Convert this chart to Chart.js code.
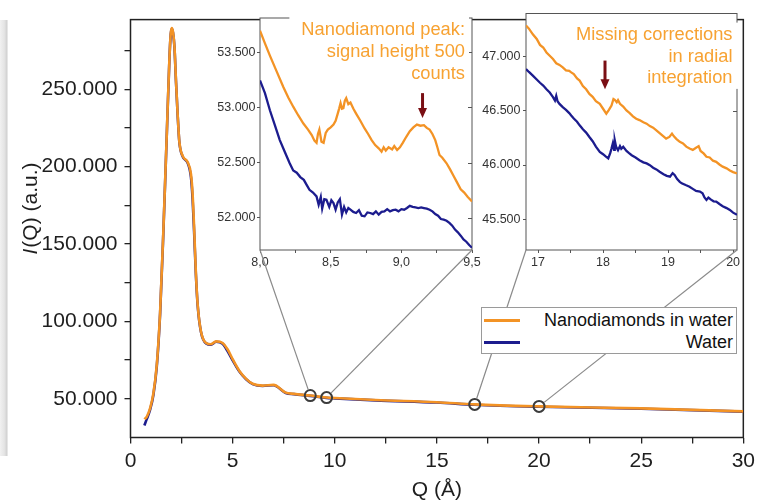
<!DOCTYPE html>
<html><head><meta charset="utf-8">
<script src="https://cdn.jsdelivr.net/npm/chart.js@4.4.1/dist/chart.umd.min.js"></script>
<style>
html,body{margin:0;padding:0;background:#fff;overflow:hidden;}
#wrap{position:relative;width:760px;height:502px;overflow:hidden;}
#wrap canvas{position:absolute;top:0;}
#band{position:absolute;left:0;top:20px;width:8px;height:436px;background:linear-gradient(to right,#f1f1f1,#e4e4e4 55%,#d2d2d2 85%,#f4f4f4);}
#legend{position:absolute;left:481px;top:307px;width:254px;height:45px;border:1px solid #9a9a9a;background:#fff;z-index:10;font-family:"Liberation Sans",Arial,sans-serif;font-size:18px;color:#111;}
.row{position:absolute;left:0;right:0;height:22px;}
.sw{position:absolute;left:2px;top:10px;width:36px;height:3px;}
.lbl{position:absolute;right:3px;top:0;line-height:22px;white-space:nowrap;}
</style></head><body>
<div id="wrap">
<div id="band"></div>
<canvas id="main" width="760" height="502" style="left:0;z-index:1"></canvas>
<canvas id="in1" width="290" height="275" style="left:200px;z-index:2"></canvas>
<canvas id="in2" width="290" height="275" style="left:470px;z-index:3"></canvas>
<canvas id="links" width="760" height="502" style="left:0;z-index:4;pointer-events:none"></canvas>
<div id="legend"></div>
</div>
<script>
// ---------- DATA ----------
const seriesNames = ['Nanodiamonds in water', 'Water'];
const xTitle = 'Q (Å)';
const yTitleItalic = 'I';
const yTitleRest = '(Q) (a.u.)';

// tick values (labels shown where the format functions below return text)
const mainXTicks = [0,2.5,5,7.5,10,12.5,15,17.5,20,22.5,25,27.5,30];
const mainYTicks = [50000,75000,100000,125000,150000,175000,200000,225000,250000,275000];
const in1XTicks = [8.0,8.25,8.5,8.75,9.0,9.25,9.5];
const in1YTicks = [52000,52500,53000,53500];
const in2XTicks = [17,17.5,18,18.5,19,19.5,20];
const in2YTicks = [45500,46000,46500,47000];

// main curve
const mainQ = [0.68,0.8,0.96,1.12,1.29,1.45,1.61,1.78,1.91,1.97,2.02,2.08,2.15,2.23,2.31,2.39,2.56,2.8,2.96,3.04,3.12,3.2,3.29,3.45,3.7,3.94,4.19,4.51,4.75,5.0,5.33,5.66,5.98,6.47,7.0,7.6,8.0,8.8,9.6,10,12,15,16.85,20,25,30];
const mainNano = [36800,38500,44000,53400,72400,106000,159000,222600,271500,286000,289500,287000,278000,254500,233400,216400,206800,202800,195200,182500,159000,131600,110600,93500,86000,85200,87100,86000,82000,75600,68000,62900,59700,58500,59000,54000,53200,52100,50800,50500,49200,47800,46400,45100,43800,41900];
const mainWater = [32800,37000,43000,52500,71500,105000,158000,222000,271000,285500,289000,286500,277500,254000,233000,216000,206300,202300,193000,179000,156000,130500,110000,93200,85800,85000,86900,85600,80800,74800,67600,62600,59500,58300,58800,53800,53000,51900,50600,50300,49000,47600,46200,44900,43600,41700];

// zoom marks on the main curve, and which inset corner each one links to
const markQ = [8.8, 9.6, 16.85, 20.0];
const markI = [52100, 50800, 46400, 45100];
const markInset = [0, 0, 1, 1];
const markSide = ['left', 'right', 'left', 'right'];

// inset 1 (Q 8.0 - 9.5)
const in1Q_nano = [8.00,8.035,8.07,8.12,8.165,8.20,8.236,8.27,8.307,8.34,8.366,8.385,8.40,8.41,8.42,8.435,8.45,8.465,8.48,8.50,8.52,8.535,8.55,8.56,8.57,8.58,8.59,8.60,8.61,8.625,8.64,8.66,8.68,8.71,8.74,8.765,8.79,8.815,8.84,8.86,8.875,8.89,8.91,8.935,8.95,8.97,8.99,9.01,9.035,9.06,9.085,9.11,9.135,9.16,9.18,9.20,9.22,9.24,9.255,9.27,9.29,9.32,9.345,9.37,9.395,9.42,9.445,9.47,9.50];
const in1I_nano = [53695,53580,53470,53320,53185,53090,53005,52930,52855,52800,52750,52700,52680,52760,52800,52690,52680,52770,52800,52820,52845,52880,52945,52990,53040,52990,52995,53060,53085,53030,53045,52990,52945,52880,52810,52760,52705,52660,52630,52600,52640,52610,52640,52620,52650,52615,52640,52680,52735,52785,52820,52845,52835,52840,52815,52800,52760,52705,52640,52570,52545,52495,52440,52380,52320,52260,52230,52190,52150];
const in1Q_water = [8.00,8.035,8.07,8.105,8.14,8.175,8.21,8.235,8.26,8.285,8.31,8.33,8.35,8.375,8.40,8.415,8.43,8.44,8.455,8.47,8.49,8.505,8.52,8.535,8.55,8.565,8.58,8.595,8.61,8.625,8.64,8.66,8.68,8.70,8.72,8.74,8.76,8.78,8.80,8.82,8.84,8.86,8.88,8.90,8.92,8.94,8.96,8.98,9.00,9.02,9.04,9.06,9.08,9.10,9.12,9.14,9.16,9.18,9.20,9.22,9.24,9.26,9.28,9.30,9.32,9.34,9.36,9.38,9.40,9.42,9.44,9.46,9.48,9.50];
const in1I_water = [53245,53130,52975,52840,52705,52600,52495,52430,52410,52370,52345,52300,52255,52230,52195,52120,52190,52085,52170,52165,52100,52160,52135,52075,52140,52170,52030,52100,52050,52090,52075,52055,52045,52070,52020,52015,52050,52045,52035,52060,52030,52055,52060,52080,52060,52070,52075,52060,52080,52075,52090,52110,52100,52095,52090,52095,52090,52085,52075,52060,52035,52020,51990,51985,51975,51955,51930,51895,51870,51840,51805,51785,51755,51730];

// inset 2 (Q 16.8 - 20.06)
const in2Q_nano = [16.815,16.86,16.92,16.98,17.03,17.08,17.13,17.18,17.23,17.28,17.33,17.38,17.43,17.48,17.51,17.55,17.60,17.64,17.69,17.74,17.79,17.84,17.89,17.95,18.00,18.05,18.09,18.13,18.16,18.18,18.21,18.23,18.26,18.31,18.36,18.41,18.46,18.51,18.56,18.62,18.67,18.72,18.77,18.82,18.87,18.92,18.97,19.02,19.06,19.09,19.13,19.18,19.23,19.28,19.33,19.38,19.43,19.47,19.50,19.55,19.59,19.64,19.69,19.74,19.79,19.84,19.90,19.95,20.00,20.06];
const in2I_nano = [47290,47260,47208,47165,47110,47086,47040,47010,46979,46940,46925,46902,46875,46870,46856,46840,46800,46780,46730,46700,46657,46630,46590,46565,46520,46474,46510,46550,46610,46602,46580,46600,46565,46540,46504,46480,46450,46428,46415,46395,46382,46360,46345,46321,46295,46270,46244,46260,46290,46265,46240,46214,46200,46170,46152,46140,46160,46175,46130,46105,46076,46070,46040,46030,46005,45985,45969,45950,45935,45923];
const in2Q_water = [16.815,16.86,16.92,16.98,17.03,17.08,17.13,17.18,17.23,17.26,17.28,17.30,17.33,17.38,17.43,17.48,17.51,17.55,17.60,17.64,17.69,17.74,17.79,17.84,17.89,17.95,18.00,18.04,18.08,18.11,18.13,18.15,18.17,18.18,18.20,18.23,18.26,18.28,18.31,18.36,18.40,18.44,18.50,18.56,18.62,18.67,18.72,18.77,18.82,18.87,18.93,18.98,19.03,19.07,19.10,19.14,19.18,19.21,19.27,19.33,19.38,19.43,19.49,19.53,19.56,19.59,19.62,19.66,19.70,19.74,19.79,19.84,19.90,19.95,20.00,20.06];
const in2I_water = [46887,46860,46826,46790,46760,46734,46700,46670,46627,46596,46640,46590,46565,46535,46510,46480,46458,46430,46400,46367,46330,46300,46259,46220,46170,46122,46100,46080,46061,46110,46152,46200,46140,46229,46170,46137,46175,46150,46168,46130,46110,46091,46070,46045,46025,46015,45999,45975,45960,45938,45915,45900,45892,45925,45908,45870,45845,45831,45815,45800,45780,45760,45755,45740,45700,45678,45700,45680,45665,45663,45640,45620,45602,45585,45560,45541];

// annotations
const note1Lines = ['Nanodiamond peak:', 'signal height 500', 'counts'];
const note1Arrow = {x: 9.15, top: 53130, tip: 52905};
const note2Lines = ['Missing corrections', 'in radial', 'integration'];
const note2Arrow = {x: 18.03, top: 46965, tip: 46700};

// ---------- STYLE ----------
const ORANGE = '#F39325', BLUE = '#1C1C8E', NOTE = '#F7A232', ARROW = '#7A0F14';
const FONT = '"Liberation Sans", Arial, Helvetica, sans-serif';
Chart.defaults.font.family = FONT;
Chart.defaults.animation = false;

const pts = (xs, ys) => xs.map((x, i) => ({x, y: ys[i]}));
const dotFmt = v => Math.round(v).toString().replace(/\B(?=(\d{3})+(?!\d))/g, '.');
const useTicks = vals => (s => { s.ticks = vals.map(v => ({value: v})); });

const framePlugin = {
  id: 'frame',
  beforeDraw(chart, args, o) {
    if (!o.fill) return;
    const a = chart.chartArea, ctx = chart.ctx;
    ctx.save(); ctx.fillStyle = o.fill;
    ctx.fillRect(a.left, a.top, a.right - a.left, a.bottom - a.top);
    ctx.restore();
  },
  beforeDatasetsDraw(chart, args, o) {
    const a = chart.chartArea, ctx = chart.ctx;
    ctx.save();
    ctx.strokeStyle = o.color; ctx.lineWidth = o.width;
    ctx.strokeRect(a.left, a.top, a.right - a.left, a.bottom - a.top);
    if (o.innerRight) {
      const ys = chart.scales.y;
      ctx.lineWidth = 1;
      ys.ticks.forEach(t => {
        const p = Math.round(ys.getPixelForValue(t.value)) + 0.5;
        ctx.beginPath(); ctx.moveTo(a.right, p); ctx.lineTo(a.right - o.innerRight, p); ctx.stroke();
      });
    }
    ctx.restore();
  }
};

const notePlugin = {
  id: 'note',
  afterDraw(chart, args, o) {
    if (!o.lines) return;
    const ctx = chart.ctx, a = chart.chartArea;
    ctx.save();
    ctx.font = o.size + 'px ' + FONT;
    ctx.fillStyle = '#fff';
    const xr = a.right - o.right;
    o.lines.forEach((t, i) => {
      const w = ctx.measureText(t).width;
      const base = a.top + o.dy + i * o.lh;
      let y1 = base - o.size * 0.95;
      if (i === 0 && o.coverTop) y1 = a.top - 3;
      const y2 = base + o.size * 0.3;
      ctx.fillRect(xr - w - o.padL, y1, w + o.padL + o.padR, y2 - y1);
    });
    ctx.fillStyle = o.color; ctx.textAlign = 'right'; ctx.textBaseline = 'alphabetic';
    o.lines.forEach((t, i) => ctx.fillText(t, xr, a.top + o.dy + i * o.lh));
    // arrow
    const xs = chart.scales.x, ys = chart.scales.y;
    const ax = xs.getPixelForValue(o.arrow.x);
    const yt = ys.getPixelForValue(o.arrow.top), yp = ys.getPixelForValue(o.arrow.tip);
    ctx.strokeStyle = o.arrowColor; ctx.fillStyle = o.arrowColor; ctx.lineWidth = 3;
    ctx.beginPath(); ctx.moveTo(ax, yt); ctx.lineTo(ax, yp - 8); ctx.stroke();
    ctx.beginPath(); ctx.moveTo(ax - 4.5, yp - 10); ctx.lineTo(ax + 4.5, yp - 10); ctx.lineTo(ax, yp); ctx.closePath(); ctx.fill();
    ctx.restore();
  }
};

const titlePlugin = {
  id: 'axisTitles',
  afterDraw(chart) {
    const ctx = chart.ctx, a = chart.chartArea;
    ctx.save();
    ctx.fillStyle = '#1e1e1e';
    ctx.font = '21px ' + FONT;
    ctx.textAlign = 'center'; ctx.textBaseline = 'alphabetic';
    ctx.fillText(xTitle, (a.left + a.right) / 2, a.bottom + 58.5);
    // y title, rotated, with italic I
    ctx.translate(31, 209);
    ctx.rotate(-Math.PI / 2);
    ctx.textBaseline = 'middle'; ctx.textAlign = 'left';
    ctx.font = 'italic 21px ' + FONT;
    const w1 = ctx.measureText(yTitleItalic).width;
    ctx.font = '21px ' + FONT;
    const w2 = ctx.measureText(yTitleRest).width;
    const x0 = -(w1 + w2) / 2;
    ctx.font = 'italic 21px ' + FONT;
    ctx.fillText(yTitleItalic, x0, 0);
    ctx.font = '21px ' + FONT;
    ctx.fillText(yTitleRest, x0 + w1 + 1, 0);
    ctx.restore();
  }
};

// ---------- MAIN CHART ----------
const mainChart = new Chart(document.getElementById('main'), {
  type: 'line',
  data: {
    datasets: [
      {label: seriesNames[0], data: pts(mainQ, mainNano), borderColor: ORANGE, borderWidth: 2.6, pointRadius: 0, cubicInterpolationMode: 'monotone', order: 0},
      {label: seriesNames[1], data: pts(mainQ, mainWater), borderColor: BLUE, borderWidth: 2.6, pointRadius: 0, cubicInterpolationMode: 'monotone', order: 1},
      {label: 'marks', data: pts(markQ, markI), showLine: false, pointRadius: 5.5, pointBorderWidth: 2, pointBorderColor: '#3c3c3c', pointBackgroundColor: 'rgba(0,0,0,0)', order: -1}
    ]
  },
  options: {
    responsive: false, devicePixelRatio: 1, animation: false,
    layout: {padding: {left: 0, right: 15, top: 13.5, bottom: 0}},
    plugins: {legend: {display: false}, tooltip: {enabled: false},
      frame: {color: '#222', width: 1.5, fill: null}},
    scales: {
      x: {type: 'linear', min: 0, max: 30,
        afterBuildTicks: useTicks(mainXTicks),
        afterFit: s => { s.height = 64.5; },
        border: {display: false},
        grid: {drawOnChartArea: false, drawTicks: true, tickLength: 6, color: '#222', lineWidth: 1.3},
        ticks: {autoSkip: false, maxRotation: 0, padding: 5, color: '#1e1e1e', font: {size: 21},
          callback: v => (Math.abs(v % 5) < 1e-9 ? String(v) : '')}
      },
      y: {type: 'linear', min: 25000, max: 295000,
        afterBuildTicks: useTicks(mainYTicks),
        afterFit: s => { s.width = 130.5; },
        border: {display: false},
        grid: {drawOnChartArea: false, drawTicks: true, tickLength: 6, color: '#222', lineWidth: 1.3},
        ticks: {autoSkip: false, padding: 7, color: '#1e1e1e', font: {size: 21},
          callback: v => (v % 50000 === 0 ? dotFmt(v) : '')}
      }
    }
  },
  plugins: [framePlugin, titlePlugin]
});

// ---------- INSETS ----------
function makeInset(id, cfg) {
  return new Chart(document.getElementById(id), {
    type: 'line',
    data: {datasets: [
      {label: seriesNames[0], data: pts(cfg.qN, cfg.iN), borderColor: ORANGE, borderWidth: 2.3, pointRadius: 0, tension: 0, order: 0},
      {label: seriesNames[1], data: pts(cfg.qW, cfg.iW), borderColor: BLUE, borderWidth: 2.3, pointRadius: 0, tension: 0, order: 1}
    ]},
    options: {
      responsive: false, devicePixelRatio: 1, animation: false,
      layout: {padding: {left: 0, right: cfg.padR, top: cfg.padT, bottom: 0}},
      plugins: {legend: {display: false}, tooltip: {enabled: false},
        frame: {color: '#555', width: 1, fill: '#fff', innerRight: 4},
        note: cfg.note},
      scales: {
        x: {type: 'linear', min: cfg.xmin, max: cfg.xmax,
          afterBuildTicks: useTicks(cfg.xticks),
          afterFit: s => { s.height = 25; },
          border: {display: false},
          grid: {drawOnChartArea: false, tickLength: 3, color: '#555', lineWidth: 1},
          ticks: {autoSkip: false, maxRotation: 0, padding: 2.5, color: '#333', font: {size: 12.5},
            callback: cfg.xfmt}
        },
        y: {type: 'linear', min: cfg.ymin, max: cfg.ymax,
          afterBuildTicks: useTicks(cfg.yticks),
          afterFit: s => { s.width = cfg.yw; },
          border: {display: false},
          grid: {drawOnChartArea: false, tickLength: 3, color: '#555', lineWidth: 1},
          ticks: {autoSkip: false, padding: cfg.ypad, color: '#333', font: {size: 12.5},
            callback: v => dotFmt(v)}
        }
      }
    },
    plugins: [framePlugin, notePlugin]
  });
}

const inset1 = makeInset('in1', {
  qN: in1Q_nano, iN: in1I_nano, qW: in1Q_water, iW: in1I_water,
  padR: 18, padT: 18, yw: 60, ypad: 1.5,
  xmin: 8.0, xmax: 9.5, ymin: 51710, ymax: 53810,
  xticks: in1XTicks, yticks: in1YTicks,
  xfmt: v => (Math.abs(v * 2 - Math.round(v * 2)) < 1e-6 ? v.toFixed(1).replace('.', ',') : ''),
  note: {lines: note1Lines, size: 18.3, dy: 16.5, lh: 22, right: 7, padL: 12, padR: 4, coverTop: true,
    color: NOTE, arrow: note1Arrow, arrowColor: ARROW}
});
const inset2 = makeInset('in2', {
  qN: in2Q_nano, iN: in2I_nano, qW: in2Q_water, iW: in2I_water,
  padR: 23, padT: 13.5, yw: 56, ypad: 2.5,
  xmin: 16.815, xmax: 20.06, ymin: 45215, ymax: 47400,
  xticks: in2XTicks, yticks: in2YTicks,
  xfmt: v => (Math.abs(v - Math.round(v)) < 1e-6 ? String(Math.round(v)) : ''),
  note: {lines: note2Lines, size: 18.3, dy: 26.5, lh: 21.7, right: 4.5, padL: 3, padR: 6, coverTop: false,
    color: NOTE, arrow: note2Arrow, arrowColor: ARROW}
});

// ---------- CONNECTOR LINES ----------
(function drawLinks() {
  const ctx = document.getElementById('links').getContext('2d');
  const insets = [inset1, inset2];
  const xs = mainChart.scales.x, ys = mainChart.scales.y;
  const r = 6.5;
  ctx.strokeStyle = '#8a8a8a'; ctx.lineWidth = 1.2;
  markQ.forEach((q, i) => {
    const cx = xs.getPixelForValue(q), cy = ys.getPixelForValue(markI[i]);
    const ch = insets[markInset[i]];
    const off = ch.canvas.offsetLeft;
    const ex = off + (markSide[i] === 'left' ? ch.chartArea.left : ch.chartArea.right);
    const ey = ch.chartArea.bottom;
    const dx = ex - cx, dy = ey - cy, d = Math.hypot(dx, dy);
    ctx.beginPath();
    ctx.moveTo(cx + dx / d * r, cy + dy / d * r);
    ctx.lineTo(ex, ey);
    ctx.stroke();
  });
})();

// ---------- LEGEND ----------
(function buildLegend() {
  const lg = document.getElementById('legend');
  const colors = [ORANGE, BLUE];
  const tops = [1, 22.7];
  seriesNames.forEach((n, i) => {
    const row = document.createElement('div');
    row.className = 'row'; row.style.top = tops[i] + 'px';
    const sw = document.createElement('span'); sw.className = 'sw'; sw.style.background = colors[i];
    const lb = document.createElement('span'); lb.className = 'lbl'; lb.textContent = n;
    row.appendChild(sw); row.appendChild(lb); lg.appendChild(row);
  });
})();
</script>
</body></html>
